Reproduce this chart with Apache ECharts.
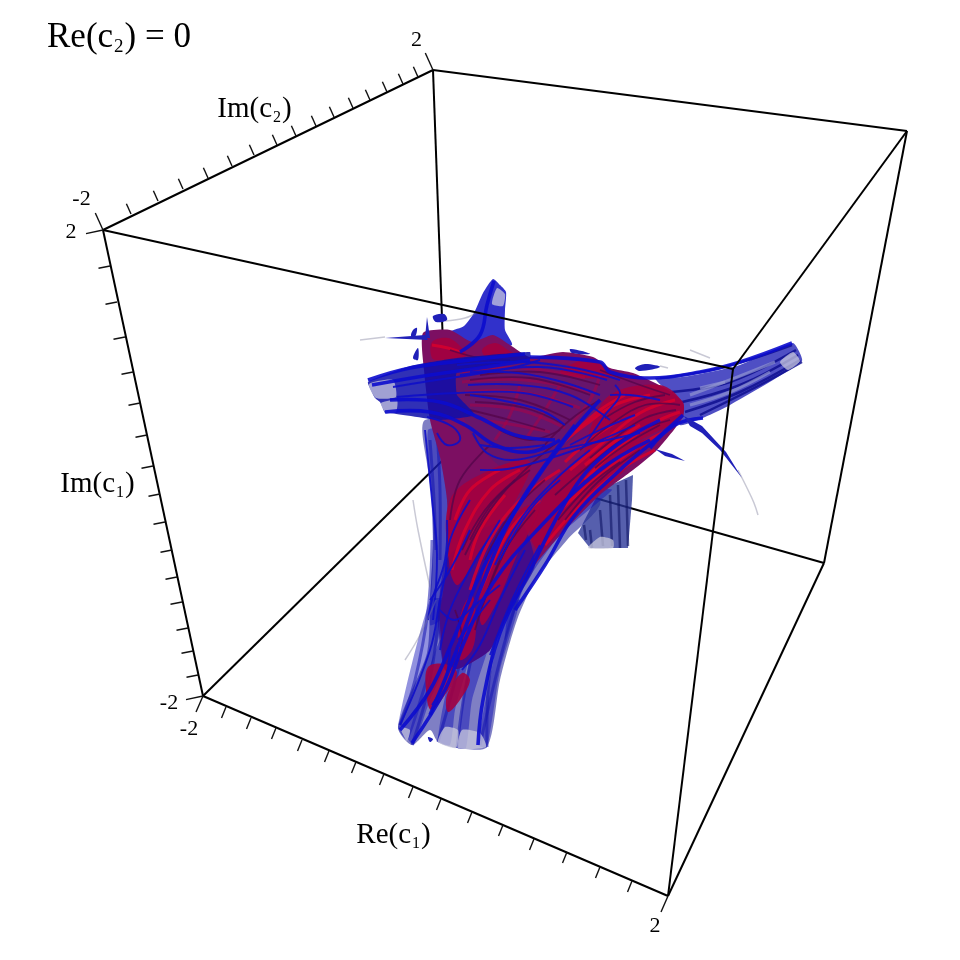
<!DOCTYPE html>
<html><head><meta charset="utf-8">
<style>html,body{margin:0;padding:0;background:#fff}#c{width:960px;height:960px}</style>
<script src="https://cdn.jsdelivr.net/npm/echarts@6/dist/echarts.min.js"></script>
</head><body><div id="c"></div>
<script>
// ---- box corners in the projected drawing plane ----
const A=[103,230],B=[433,70],C=[907,131],D=[733,369],E=[203,696],F=[668,896],G=[824,563],H=[447,456];
const backEdges=[[B,H],[E,H],[G,H]];
const frontEdges=[[A,B],[B,C],[A,D],[C,D],[A,E],[E,F],[F,D],[F,G],[C,G]];
// ---- tick positions read along each axis (-2 .. 2 every 0.25) ----
const reTicks=[[226,707],[251,718],[276,728],[302,740],[329,751],[356,762],[384,774],[413,787],[441,799],[472,812],[503,825],[534,839],[567,852],[600,867],[632,881]];
const imC1Ticks=[[110,266],[117,302],[125,337],[133,372],[140,403],[147,435],[153,466],[160,494],[165,522],[172,550],[177,577],[182,602],[188,628],[193,651],[198,675]];
const imC2Ticks=[[131,214],[158,201],[183,189],[208,178],[232,166],[254,155],[277,145],[296,136],[316,126],[334,117],[353,108],[370,100],[387,92],[403,84],[418,77]];
const reEnds=[E,F], imC1Ends=[A,E], imC2Ends=[A,B];
// ---- text ----
const titleText='{a|Re(c}{s|2}{a|) = 0}';
const axisTitles=[['{a|Re(c}{s|1}{a|)}',393.5,836.5],['{a|Im(c}{s|1}{a|)}',97.5,485.5],['{a|Im(c}{s|2}{a|)}',254.5,110.5]];
const endLabels=[['-2',81.5,199],['2',71,232],['2',416.5,40],['-2',169,703],['-2',189,729],['2',655,926]];
// ---- volume outlines: pale tube bodies ----
const tubeTail=[[425,420],[428,470],[432,500],[433,543],[430,600],[427,653],[398,727],[412,745],[430,730],[438,742],[457,748],[487,747],[500,680],[517,620],[537,577],[567,540],[600,500],[500,430]];
const tubeStub=[[578,533],[590,548],[628,548],[632,500],[633,475],[600,490]];
const tubeSpike=[[493,279],[500,285],[506,292],[505,310],[505,330],[512,345],[480,350],[445,345],[430,335],[450,331],[464,326],[474,313],[483,293]];
const tubeLeft=[[368,382],[410,366],[457,358],[530,352],[530,359],[457,372],[457,395],[475,415],[440,420],[390,413],[385,413],[380,402],[375,398]];
const tubeRight=[[793,343],[802,361],[730,405],[703,418],[680,425],[670,395],[655,378],[683,377],[720,370],[740,365]];
const tubeCaps=[
 [[369,384],[393,380],[396,397],[376,398]],[[381,403],[397,400],[396,412],[386,413]],
 [[780,362],[793,352],[800,361],[788,370]],
 [[445,727],[458,730],[456,748],[438,742]],[[400,727],[410,730],[407,741]],
 [[462,730],[480,733],[486,747],[458,748]],[[600,537],[613,540],[613,548],[588,548]],
 [[497,288],[505,294],[503,306],[492,304]]];
const tailBands=[[[428,430],[446,430],[450,500],[447,570],[440,620],[430,625],[433,545],[431,490]],
 [[430,600],[446,600],[428,680],[408,740],[398,727]],[[440,640],[452,650],[430,700],[414,745],[408,738]],
 [[452,670],[468,660],[455,710],[450,745],[438,740]],[[505,610],[520,600],[500,670],[487,747],[478,745]],
 [[470,660],[490,640],[472,700],[466,748],[458,748]],[[520,560],[600,490],[612,490],[560,535],[525,585],[505,640]]];
const tailStripes=[[[432,540],[428,610],[415,680],[400,725]],[[440,600],[430,680],[412,745]],[[466,640],[450,700],[438,742]],[[480,620],[465,690],[457,748]],
 [[505,600],[490,670],[487,747]],[[520,590],[500,660],[480,745]],[[437,430],[440,490],[440,560]],[[430,440],[434,500],[436,550]]];
const stubStripes=[[[590,530],[592,548]],[[600,510],[603,546]],[[610,495],[612,546]],[[618,485],[620,548]],[[626,480],[628,546]],[[584,525],[586,540]]];
const rightStripes=[[[660,378],[720,368],[792,345]],[[672,392],[730,382],[796,350]],[[678,403],[740,385],[798,355]],[[685,412],[740,392],[800,360]],[[700,415],[760,385],[802,362]]];
const paleStripes=[[[690,395],[735,378],[775,362]],[[690,405],[730,392],[770,372]],[[700,388],[725,382]]];
// ---- volume outlines: red core ----
const coreBody=[[423,333],[450,330],[472,342],[493,335],[510,345],[530,357],[563,352],[593,357],[610,368],[633,373],[663,387],[683,402],[683,417],[657,450],[633,470],[600,495],[565,530],[535,565],[510,610],[490,650],[463,667],[445,670],[440,617],[447,563],[447,500],[440,457],[430,420],[424,370]];
const coreMauve=[[457,368],[540,362],[600,372],[620,385],[590,420],[560,450],[510,470],[475,440],[457,395]];
const lowerWash=[[446,560],[480,530],[520,520],[535,565],[510,610],[490,650],[463,667],[445,670],[438,620]];
const redLobes=[
 [[610,395],[660,385],[683,403],[680,418],[650,435],[610,455],[585,470],[590,430]],
 [[560,475],[600,455],[650,440],[625,470],[570,520],[540,550],[530,530]],
 [[450,500],[490,470],[530,462],[510,510],[480,550],[458,585],[450,570]],
 [[490,555],[520,510],[540,505],[515,560],[498,600],[482,625],[480,590]],
 [[432,342],[448,338],[462,348],[466,356],[440,360],[432,358]],
 [[482,350],[495,343],[508,350],[518,358],[490,360]],
 [[583,360],[600,362],[612,376],[585,378],[560,372]],
 [[462,610],[472,595],[476,625],[472,650],[460,660],[458,635]],
 [[428,667],[445,664],[457,673],[445,695],[431,710],[426,690]],
 [[462,673],[470,680],[460,700],[448,712],[447,695]]];
const redStreaks=[[[675,400],[640,413],[600,445],[570,470]],[[680,412],[650,425],[610,455],[585,480]],[[668,430],[640,445],[600,475],[560,510]],[[655,450],[620,470],[580,505],[545,545]],
 [[625,395],[600,410],[575,432]],[[650,395],[615,405],[585,425],[560,445]],[[560,470],[520,500],[490,540],[470,590]],[[520,470],[490,490],[465,530],[452,570]],
 [[500,470],[470,490],[455,520]],[[540,500],[510,530],[485,580],[468,620]],[[432,345],[448,348],[460,352]],[[620,420],[590,440],[565,462]],[[640,425],[610,445],[585,465]],[[470,560],[480,530],[505,495]]];
const dullStreaks=[[[462,372],[520,368],[585,378]],[[462,382],[525,380],[590,392]],[[465,392],[520,392],[580,408]],[[470,405],[520,410],[565,428]],[[480,420],[515,425],[550,432]],[[600,375],[590,400],[570,425]],[[560,385],[545,410],[525,440]],[[520,385],[510,415],[495,440]]];
const darkStreaks=[[[680,405],[645,405],[610,425],[580,450]],[[670,420],[630,435],[590,465],[555,495]],[[640,450],[600,480],[565,520]],[[560,440],[525,470],[490,510],[465,555]],
 [[545,480],[510,515],[485,560]],[[510,540],[490,585],[475,630]],[[470,380],[530,378],[590,395]],[[465,395],[520,400],[570,420]],[[470,410],[510,420],[545,430]],
 [[450,350],[480,358],[510,360]],[[455,610],[462,640],[455,665]],[[600,370],[640,385],[670,395]],[[490,445],[460,480],[450,520]],
 [[665,395],[635,402],[605,418]],[[676,410],[645,418],[615,438],[590,458]],[[660,425],[625,445],[595,468]],[[620,462],[590,485],[558,520]],[[530,470],[495,500],[470,540]],
 [[515,480],[485,510],[462,550]],[[535,510],[505,550],[488,590]],[[480,375],[540,372],[600,385]],[[475,402],[525,408],[565,425]],[[500,430],[530,440],[560,430]],[[600,400],[570,420],[540,450]]];
// ---- volume outlines: blue filaments ----
const blueThick=[[[368,380],[410,368],[470,360],[525,354]],[[372,385],[430,375],[480,368],[530,360]],[[385,412],[430,412],[465,425],[495,445],[530,452],[560,440]],[[390,400],[440,402],[480,418],[515,435],[555,440]],
 [[460,352],[480,335],[487,305],[494,281]],[[530,357],[600,362],[610,372],[650,378],[700,372],[740,362],[792,343]],
 [[600,400],[565,440],[527,493],[487,560],[453,640],[430,690],[400,730]],[[660,420],[610,450],[573,490],[527,577],[500,633],[483,700],[478,745]],
 [[650,440],[600,470],[540,527],[493,583],[465,640],[445,690],[412,743]],[[575,425],[545,465],[510,520],[480,590],[450,667],[430,715]],
 [[683,415],[655,440],[620,470],[575,515],[545,565],[515,610]],[[703,418],[675,425],[650,448]]];
const blueThin=[[[393,387],[457,377],[540,367],[607,380]],[[397,397],[457,393],[523,393],[573,407]],[[427,417],[453,427],[460,440],[447,445],[437,433]],
 [[473,433],[487,453],[513,460],[557,450],[607,440],[640,433]],[[480,470],[513,468],[575,450],[635,425]],[[457,365],[520,362],[575,368],[620,380]],
 [[468,385],[520,385],[570,395],[610,420]],[[460,375],[505,372],[555,380],[600,395]],[[615,385],[620,395],[605,415],[585,445]],
 [[447,567],[440,600],[430,650],[400,725]],[[447,520],[445,560],[432,600],[428,620]],[[470,500],[450,540],[446,575]],[[500,520],[470,570],[450,610],[440,650]],
 [[440,610],[455,620],[475,605],[500,585]],[[430,600],[450,570],[470,530]],[[560,480],[530,510],[500,560]],[[590,450],[555,480],[520,520],[495,565]],
 [[635,415],[600,430],[570,445]],[[660,400],[630,395],[610,395]],[[425,430],[432,500],[437,555],[433,620]],[[540,360],[510,368],[470,372]],
 [[470,395],[500,400],[540,410],[565,425]],[[480,445],[510,448],[545,445]],[[525,550],[500,600],[480,645],[462,670]],[[540,545],[512,600],[490,655]],
 [[458,640],[470,625],[490,600]],[[450,650],[445,680],[432,705]]];
const arcFaint=[[[738,470],[748,490],[754,503],[758,515]],[[413,500],[418,530],[430,587]],[[436,600],[420,635],[405,660]],[[445,321],[465,318],[478,312]],[[360,340],[385,337]],[[690,350],[710,358]],[[668,368],[660,366]]];
const specks=[[[433,316],[444,314],[447,320],[436,322]],[[413,330],[417,328],[415,337],[411,336]],[[413,358],[418,348],[418,360]],[[570,349],[582,351],[590,354],[572,353]],[[635,368],[645,364],[660,367],[640,371]],[[428,737],[433,739],[430,742]]];
const tapers=[[[684,416],[702,426],[726,452],[742,478],[720,450],[702,433],[690,426]],[[655,449],[672,454],[685,461],[665,456]],[[385,338],[425,335],[428,340]],[[427,317],[430,338],[425,338]]];

const paint={
 tube:{fill:'rgba(48,48,160,0.62)'},stub:{fill:'rgba(38,50,150,0.78)'},spike:{fill:'rgba(15,15,195,0.86)'},
 left:{fill:'rgba(14,14,170,0.86)'},right:{fill:'rgba(30,30,180,0.78)'},cap:{fill:'rgba(205,205,222,0.72)'},band:{fill:'rgba(14,14,185,0.45)'},
 core:{fill:'#7c0f62'},mauve:{fill:'rgba(100,22,110,0.85)'},wash:{fill:'rgba(30,10,165,0.6)'},lobe:{fill:'rgba(165,0,62,0.88)'},speck:{fill:'#2020b8'},
 tailStripe:{stroke:'rgba(20,20,175,0.55)',lineWidth:3},stubStripe:{stroke:'rgba(15,20,100,0.6)',lineWidth:2.5},
 rightStripe:{stroke:'rgba(10,10,140,0.8)',lineWidth:2.5},pale:{stroke:'rgba(150,155,210,0.65)',lineWidth:3},
 red:{stroke:'rgba(215,0,45,0.85)',lineWidth:3},dull:{stroke:'rgba(175,0,65,0.5)',lineWidth:3},dark:{stroke:'rgba(85,5,75,0.8)',lineWidth:1.8},
 thick:{stroke:'rgba(12,12,205,0.9)',lineWidth:3.6},thin:{stroke:'rgba(14,14,200,0.9)',lineWidth:1.9},
 faint:{stroke:'rgba(120,120,150,0.4)',lineWidth:1.5},
 edge:{stroke:'#000',lineWidth:2},tick:{stroke:'#111',lineWidth:1.4}
};
function layer(name,paths,style,closed,smooth){
 return {type:'custom',name,coordinateSystem:'cartesian2d',silent:true,clip:false,
  data:paths.map((_,i)=>[i]),encode:{x:0,y:0},
  renderItem:(p,api)=>({type:closed?'polygon':'polyline',
    shape:{points:paths[p.dataIndex].map(q=>api.coord(q)),smooth:smooth},
    style:Object.assign({fill:closed?undefined:'none'},style)})};
}
function tickPaths(list,ends,dx,dy,bx,by){
 return list.map(t=>[t,[t[0]+dx,t[1]+dy]]).concat(ends.map(t=>[t,[t[0]+bx,t[1]+by]]));
}
const textFonts=(big,small,pad)=>({
 a:{fontFamily:'Liberation Serif',fontWeight:'normal',fontSize:big,color:'#000',fill:'#000',lineHeight:big+2,verticalAlign:'top'},
 s:{fontFamily:'Liberation Serif',fontWeight:'normal',fontSize:small,color:'#000',fill:'#000',lineHeight:small,verticalAlign:'bottom',padding:[pad,1,0,1]}
});
function textLayer(name,items,style){
 return {type:'custom',name,coordinateSystem:'cartesian2d',silent:true,clip:false,
  data:items.map((t,i)=>[t[1],t[2],i]),encode:{x:0,y:1},
  renderItem:(p,api)=>{
   const t=items[p.dataIndex],c=api.coord([t[1],t[2]]);
   return {type:'text',style:Object.assign({text:t[0],x:c[0],y:c[1],align:'center',verticalAlign:'middle',fill:'#000'},style)};
  }};
}
const series=[
 layer('backEdges',backEdges,paint.edge,false,0),
 layer('tubeTail',[tubeTail],paint.tube,true,0.25),
 layer('tubeStub',[tubeStub],paint.stub,true,0),
 layer('tailBands',tailBands,paint.band,true,0.2),
 layer('tailStripes',tailStripes,paint.tailStripe,false,0.4),
 layer('stubStripes',stubStripes,paint.stubStripe,false,0),
 layer('tubeRight',[tubeRight],paint.right,true,0.15),
 layer('rightStripes',rightStripes,paint.rightStripe,false,0.4),
 layer('paleStripes',paleStripes,paint.pale,false,0.4),
 layer('tubeSpike',[tubeSpike],paint.spike,true,0.2),
 layer('core',[coreBody],paint.core,true,0.2),
 layer('mauve',[coreMauve],paint.mauve,true,0.3),
 layer('lowerWash',[lowerWash],paint.wash,true,0.2),
 layer('lobes',redLobes,paint.lobe,true,0.35),
 layer('redStreaks',redStreaks,paint.red,false,0.4),
 layer('dullStreaks',dullStreaks,paint.dull,false,0.4),
 layer('darkStreaks',darkStreaks,paint.dark,false,0.4),
 layer('tubeLeft',[tubeLeft],paint.left,true,0.12),
 layer('caps',tubeCaps,paint.cap,true,0.2),
 layer('blueThick',blueThick,paint.thick,false,0.4),
 layer('blueThin',blueThin,paint.thin,false,0.4),
 layer('arcFaint',arcFaint,paint.faint,false,0.4),
 layer('specks',specks,paint.speck,true,0.35),
 layer('tapers',tapers,paint.speck,true,0),
 layer('frontEdges',frontEdges,paint.edge,false,0),
 layer('reTicks',tickPaths(reTicks,reEnds,-4.5,11,-7,16),paint.tick,false,0),
 layer('imC1Ticks',tickPaths(imC1Ticks,imC1Ends,-11.5,2.3,-17,3.6),paint.tick,false,0),
 layer('imC2Ticks',tickPaths(imC2Ticks,imC2Ends,-4.6,-10.3,-7.7,-17),paint.tick,false,0),
 textLayer('axisTitles',axisTitles,{rich:textFonts(29,16,24)}),
 textLayer('endLabels',endLabels,{font:'22px "Liberation Serif"'})
];
const chart=echarts.init(document.getElementById('c'),null,{renderer:'canvas'});
chart.setOption({animation:false,backgroundColor:'#fff',
 title:{text:titleText,left:47,top:20,padding:0,textStyle:{rich:textFonts(35,19,30)}},
 grid:{left:0,right:0,top:0,bottom:0},
 xAxis:{type:'value',min:0,max:960,show:false},
 yAxis:{type:'value',min:0,max:960,inverse:true,show:false},
 series});
</script></body></html>
